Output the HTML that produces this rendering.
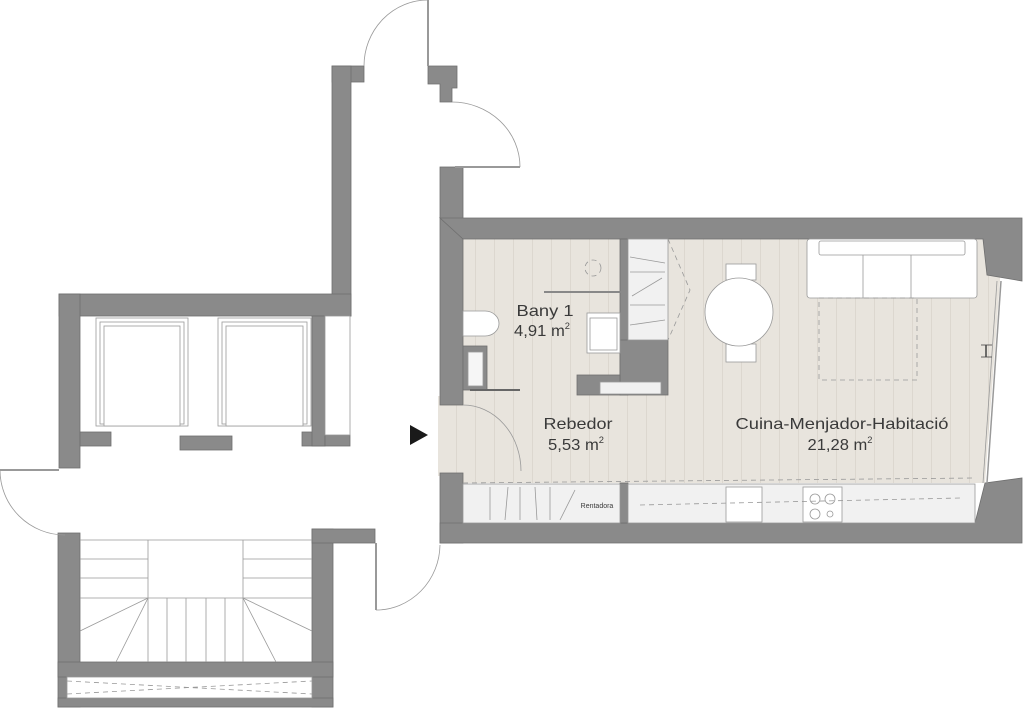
<!DOCTYPE html>
<html><head><meta charset="utf-8"><style>
html,body{margin:0;padding:0;background:#fff;}
svg{display:block;}
text{font-family:"Liberation Sans",sans-serif;fill:#3a3a3a;}
</style></head><body>
<svg width="1024" height="708" viewBox="0 0 1024 708" xmlns="http://www.w3.org/2000/svg">
<defs>
<pattern id="fl" width="19" height="708" patternUnits="userSpaceOnUse">
<rect width="19" height="708" fill="#e8e4dd"/>
<line x1="0.5" y1="0" x2="0.5" y2="708" stroke="#dcd7cf" stroke-width="1"/>
</pattern>
</defs>
<rect x="463" y="239" width="160" height="157" fill="url(#fl)"/>
<polygon points="463,239 1000,239 1000,281 985,483 463,483" fill="url(#fl)"/>
<rect x="438" y="396" width="30" height="80" fill="url(#fl)"/>

<g fill="#8a8a8a" stroke="#6f6f6f" stroke-width="0.8">
<rect x="332" y="66" width="32" height="16"/>
<rect x="332" y="66" width="19" height="250"/>
<polygon points="428,66 457,66 457,88 452,88 452,102 440,102 440,84 428,84"/>
<rect x="59" y="294" width="292" height="22"/>
<rect x="59" y="294" width="21" height="174"/>
<rect x="80" y="432" width="31" height="14"/>
<rect x="180" y="436" width="52" height="14"/>
<rect x="302" y="432" width="23" height="14"/>
<rect x="312" y="316" width="13" height="130"/>
<rect x="325" y="435" width="25" height="11"/>
<rect x="58" y="533" width="22" height="174"/>
<rect x="312" y="529" width="21" height="178"/>
<rect x="312" y="529" width="63" height="14"/>
<rect x="58" y="662" width="275" height="15"/>
<rect x="58" y="698" width="275" height="9"/>
<rect x="440" y="167" width="23" height="238"/>
<polygon points="440,218 1022,218 1022,281 987,275 983,239 463,239"/>
<rect x="440" y="473" width="23" height="70"/>
<polygon points="440,523 975,523 985,483 1022,478 1022,543 440,543"/>
<rect x="620" y="239" width="8" height="156"/>
<rect x="620" y="340" width="48" height="55"/>
<rect x="577" y="375" width="43" height="20"/>
<rect x="463" y="346" width="24" height="44"/>
<rect x="620" y="483" width="8" height="40"/>
</g>

<g fill="#fff" stroke="#999" stroke-width="0.8">
<rect x="96" y="318" width="92" height="108"/>
<rect x="100" y="322" width="84" height="102"/>
<rect x="104" y="326" width="76" height="100"/>
<rect x="218" y="318" width="93" height="108"/>
<rect x="222" y="322" width="85" height="102"/>
<rect x="226" y="326" width="77" height="100"/>
<rect x="325" y="316" width="25" height="119" fill="#fff"/>
<rect x="67" y="677" width="245" height="21"/>
<rect x="628" y="239" width="40" height="101" fill="#f1f1f1"/>
<rect x="600" y="382" width="61" height="12" fill="#f1f1f1"/>
<rect x="468" y="352" width="15" height="34" fill="#f6f6f6"/>
<path d="M463,311 H485 A14,12.5 0 0 1 485,336 H463 Z"/>
<rect x="587" y="313" width="33" height="40"/>
<rect x="590" y="318" width="27" height="32"/>
<rect x="463" y="484" width="157" height="39" fill="#f1f1f1"/>
<rect x="628" y="484" width="347" height="39" fill="#f1f1f1"/>
<rect x="726" y="487" width="36" height="35"/>
<rect x="803" y="487" width="39" height="35"/>
<rect x="807" y="239" width="170" height="59" rx="3"/>
<rect x="819" y="241" width="146" height="14" rx="2"/>
<line x1="863" y1="255" x2="863" y2="298"/><line x1="911" y1="255" x2="911" y2="298"/>
<rect x="726" y="264" width="30" height="16"/>
<rect x="726" y="344" width="30" height="18"/>
<circle cx="739" cy="312" r="34"/>
<circle cx="815" cy="499" r="5"/><circle cx="830" cy="499" r="5"/><circle cx="815" cy="514" r="5"/><circle cx="830" cy="514" r="3"/>
</g>

<g stroke="#999" stroke-width="0.8" fill="none">
<line x1="80" y1="540" x2="312" y2="540"/>
<line x1="148" y1="540" x2="148" y2="662"/><line x1="243" y1="540" x2="243" y2="662"/>
<line x1="80" y1="559" x2="148" y2="559"/><line x1="80" y1="578" x2="148" y2="578"/><line x1="80" y1="598" x2="312" y2="598"/>
<line x1="243" y1="559" x2="312" y2="559"/><line x1="243" y1="578" x2="312" y2="578"/>
<line x1="167" y1="598" x2="167" y2="662"/><line x1="186" y1="598" x2="186" y2="662"/><line x1="206" y1="598" x2="206" y2="662"/><line x1="225" y1="598" x2="225" y2="662"/>
<line x1="148" y1="598" x2="80" y2="631"/><line x1="148" y1="598" x2="116" y2="662"/>
<line x1="243" y1="598" x2="312" y2="631"/><line x1="243" y1="598" x2="276" y2="662"/>
<path d="M364,66 A64,66 0 0 1 428,0"/><line x1="428" y1="0" x2="428" y2="66" stroke-width="2"/>
<path d="M452,102 A68,65 0 0 1 520,167"/><line x1="455" y1="167" x2="520" y2="167" stroke-width="2"/>
<path d="M0,470 A65,65 0 0 0 65,535"/><line x1="0" y1="470" x2="59" y2="470" stroke-width="2"/>
<path d="M376,610 A64,66 0 0 0 440,545"/><line x1="376" y1="543" x2="376" y2="610" stroke-width="2"/>
<path d="M463,405 A58,66 0 0 1 521,471"/>
<line x1="544" y1="292" x2="621" y2="292" stroke="#888" stroke-width="2"/>
<line x1="470" y1="390" x2="520" y2="390" stroke="#666" stroke-width="2"/>
<g stroke-dasharray="5,4">
<rect x="819" y="298" width="98" height="82"/>
<path d="M668,239 L690,290 L668,340"/>
<line x1="463" y1="483" x2="975" y2="478"/>
<line x1="67" y1="681" x2="312" y2="694"/><line x1="67" y1="694" x2="312" y2="681"/>
<line x1="640" y1="505" x2="960" y2="498"/>
<circle cx="593" cy="268" r="8"/>
</g>
<line x1="630" y1="257" x2="665" y2="263"/><line x1="630" y1="272" x2="665" y2="272"/>
<line x1="632" y1="296" x2="662" y2="278"/><line x1="630" y1="305" x2="665" y2="305"/>
<line x1="630" y1="325" x2="665" y2="320"/>
<line x1="490" y1="487" x2="490" y2="520"/><line x1="508" y1="487" x2="505" y2="520"/>
<line x1="520" y1="487" x2="520" y2="520"/><line x1="535" y1="487" x2="537" y2="520"/>
<line x1="550" y1="487" x2="550" y2="520"/><line x1="575" y1="490" x2="560" y2="520"/>
<line x1="1001" y1="281" x2="987" y2="483" stroke-width="1.5"/>
<line x1="997" y1="281" x2="983" y2="483"/>
<line x1="986" y1="345" x2="986" y2="357" stroke="#444" stroke-width="1.5"/>
<line x1="981" y1="345" x2="992" y2="345" stroke="#444"/>
<line x1="981" y1="357" x2="992" y2="357" stroke="#444"/>
</g>
<polygon points="410,425 428,435 410,445" fill="#1a1a1a"/>

<g font-size="16" text-anchor="middle">
<text x="545" y="316" textLength="57" lengthAdjust="spacingAndGlyphs">Bany 1</text>
<text x="542" y="336" textLength="56" lengthAdjust="spacingAndGlyphs">4,91 m<tspan font-size="9" dy="-7">2</tspan></text>
<text x="578" y="429" textLength="69" lengthAdjust="spacingAndGlyphs">Rebedor</text>
<text x="576" y="450" textLength="56" lengthAdjust="spacingAndGlyphs">5,53 m<tspan font-size="9" dy="-7">2</tspan></text>
<text x="842" y="429" textLength="213" lengthAdjust="spacingAndGlyphs">Cuina-Menjador-Habitació</text>
<text x="840" y="450" textLength="65" lengthAdjust="spacingAndGlyphs">21,28 m<tspan font-size="9" dy="-7">2</tspan></text>
<text x="597" y="508" font-size="7">Rentadora</text>
</g>
</svg>
</body></html>
